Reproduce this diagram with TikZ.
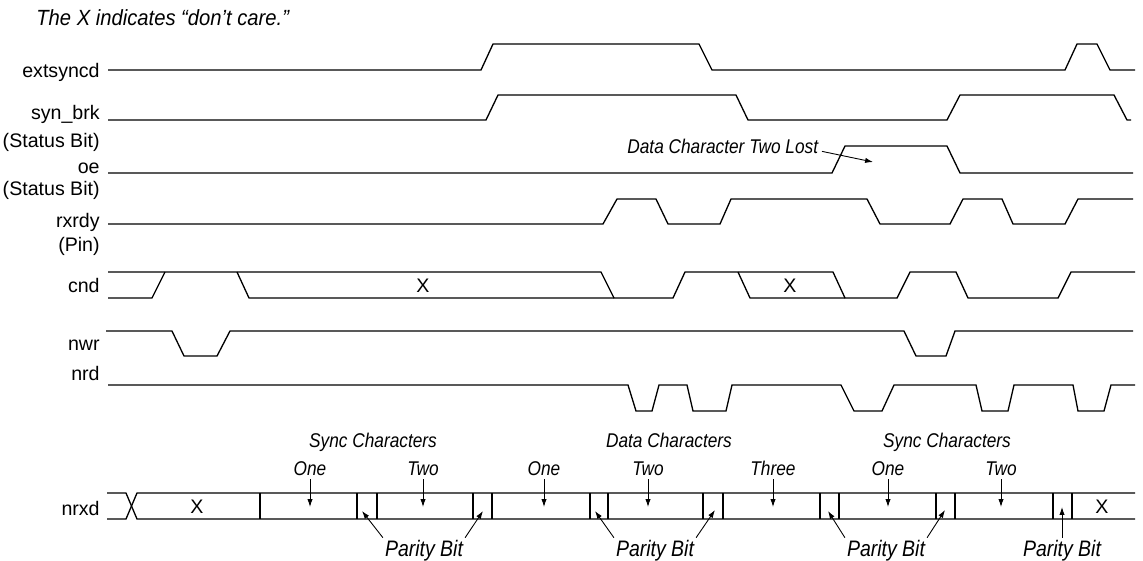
\documentclass[tikz,border=0pt]{standalone}
\usepackage{fontspec}
\setmainfont{Liberation Sans}
\newfontfamily\notefont{Liberation Sans}[FakeStretch=0.87]
\newfontfamily\titlefont{Liberation Sans}[FakeStretch=0.92]
\usetikzlibrary{arrows.meta}

\begin{document}
\begin{tikzpicture}[x=0.2mm, y=-0.2mm,
    wave/.style ={line width=0.75pt, line join=miter},
    signame/.style ={anchor=base east, inner sep=0pt, font=\fontsize{11.15}{13}\selectfont},
    dontcare/.style ={font=\fontsize{11.15}{13}\selectfont},
    note/.style ={anchor=base, inner sep=2pt, font=\notefont\itshape\fontsize{11.3}{13}\selectfont},
    parity/.style ={anchor=base, inner sep=1pt, font=\notefont\itshape\fontsize{12.75}{15}\selectfont},
    pointer/.style ={line width=0.5pt, -{Latex[length=4.5pt, width=3pt]}}]
   \useasboundingbox (0,0) rectangle (1143,560);
   \node[anchor=base west, inner sep=0pt, font=\titlefont\itshape\fontsize{12.5}{15}\selectfont] (title) at (36,25) {The X indicates “don’t care.”};

   \node[signame] (lext) at (100,77) {extsyncd};
   \node[signame] (lsyn) at (100,119) {syn\_brk};
   \node[signame] (lsynb) at (100,147) {(Status Bit)};
   \node[signame] (loe) at (100,173) {oe};
   \node[signame] (loeb) at (100,195) {(Status Bit)};
   \node[signame] (lrx) at (100,227) {rxrdy};
   \node[signame] (lrxp) at (100,251) {(Pin)};
   \node[signame] (lcnd) at (100,292) {cnd};
   \node[signame] (lnwr) at (100,350) {nwr};
   \node[signame] (lnrd) at (100,380) {nrd};
   \node[signame] (lnrxd) at (100,515) {nrxd};

   \draw[wave] (108,70) -- (481,70) -- (493,44) -- (699,44) -- (712,70) -- (1065,70) -- (1077,44) -- (1097,44) -- (1110,70) -- (1135,70);
   \draw[wave] (108,120) -- (486,120) -- (498,95) -- (736,95) -- (748,120) -- (947,120) -- (960,95) -- (1114,95) -- (1127,120) -- (1131,120);
   \draw[wave] (108,173) -- (832,173) -- (845,146) -- (947,146) -- (960,173) -- (1133,173);
   \draw[wave] (108,224) -- (603,224) -- (617,199) -- (656,199) -- (668,224) -- (720,224) -- (731,199) -- (867,199) -- (880,224) -- (950,224) -- (963,199) -- (1002,199) -- (1013,224) -- (1065,224) -- (1078,199) -- (1133,199);

   \draw[wave] (108,298) -- (152,298) -- (165,272);
   \draw[wave] (108,272) -- (601,272) -- (614,298) -- (673,298) -- (685,272) -- (833,272) -- (845,298) -- (897,298) -- (910,272) -- (956,272) -- (968,298) -- (1058,298) -- (1071,272) -- (1135,272);
   \draw[wave] (237,272) -- (249,298) -- (614,298);
   \draw[wave] (738,272) -- (750,298) -- (845,298);
   \node[dontcare] (xa) at (423,286) {X};
   \node[dontcare] (xb) at (790,286) {X};

   \draw[wave] (106,331) -- (172,331) -- (184,356) -- (217,356) -- (230,331) -- (904,331) -- (916,356) -- (946,356) -- (955,331) -- (1133,331);
   \draw[wave] (108,385) -- (628,385) -- (636,411) -- (652,411) -- (659,385) -- (687,385) -- (693,411) -- (726,411) -- (732,385) -- (841,385) -- (854,411) -- (882,411) -- (894,385) -- (976,385) -- (982,411) -- (1008,411) -- (1014,385) -- (1073,385) -- (1078,411) -- (1104,411) -- (1111,385) -- (1135,385);

   \draw[wave] (107,493) -- (126,493) -- (137,519) -- (1135,519);
   \draw[wave] (107,519) -- (126,519) -- (137,493) -- (1135,493);
   \foreach \d in {260,357,377,473,492,590,608,703,723,820,839,936,955,1053,1072}
      \draw[wave] (\d,493) -- (\d,519);
   \node[dontcare] (xc) at (197,507) {X};
   \node[dontcare] (xd) at (1102,507) {X};

   \node[note, anchor=base east] (lost) at (822,153) {Data Character Two Lost};
   \coordinate (lostend) at (873,162);
   \draw[pointer] ([yshift=-0.6mm]lost.mid east) -- (lostend);

   \node[note] (sync1) at (373,447) {Sync Characters};
   \node[note] (data) at (669,447) {Data Characters};
   \node[note] (sync2) at (947,447) {Sync Characters};

   \node[note] (one1) at (310,475) {One};
   \node[note] (two1) at (423,475) {Two};
   \node[note] (one2) at (544,475) {One};
   \node[note] (two2) at (648,475) {Two};
   \node[note] (three) at (773,475) {Three};
   \node[note] (one3) at (888,475) {One};
   \node[note] (two3) at (1001,475) {Two};
   \foreach \n/\x in {one1/310,two1/423,one2/544,two2/648,three/773,one3/888,two3/1001}{
      \coordinate (\n tip) at (\x,507);
      \draw[pointer] (\n) -- (\n tip);
   }

   \node[parity] (pb1) at (424,556) {Parity Bit};
   \node[parity] (pb2) at (655,556) {Parity Bit};
   \node[parity] (pb3) at (886,556) {Parity Bit};
   \node[parity] (pb4) at (1062,556) {Parity Bit};
   \coordinate (pt1a) at (362,511);
   \coordinate (pt1b) at (483,511);
   \coordinate (pt2a) at (595,511);
   \coordinate (pt2b) at (715,510);
   \coordinate (pt3a) at (828,511);
   \coordinate (pt3b) at (945,510);
   \coordinate (pt4) at (1062,507);
   \draw[pointer] (pb1.north west) -- (pt1a);
   \draw[pointer] (pb1.north east) -- (pt1b);
   \draw[pointer] (pb2.north west) -- (pt2a);
   \draw[pointer] (pb2.north east) -- (pt2b);
   \draw[pointer] (pb3.north west) -- (pt3a);
   \draw[pointer] (pb3.north east) -- (pt3b);
   \draw[pointer] (pb4.north) -- (pt4);
\end{tikzpicture}
\end{document}
